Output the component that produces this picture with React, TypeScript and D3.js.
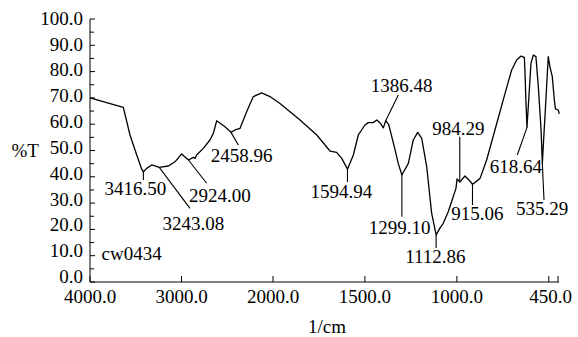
import React from "react";
import * as d3 from "d3";

// IR spectrum, sample cw0434: wavenumber (1/cm) and transmittance (%T)
const wavenumbers = [
  4000, 3636, 3563, 3508, 3435, 3416.5, 3380, 3326, 3243.08, 3144, 3071, 2998,
  2924.0, 2871, 2852, 2834, 2762, 2689, 2652, 2615, 2525, 2458.96, 2415, 2361,
  2287, 2215, 2123, 2033, 1962, 1853, 1762, 1690, 1654, 1626, 1594.94, 1563,
  1536, 1518, 1500, 1482, 1455, 1435, 1415, 1400, 1386.48, 1370, 1340, 1319,
  1299.1, 1264, 1237, 1213, 1191, 1164, 1137, 1112.86, 1093, 1074, 1047, 1020,
  1005, 999, 984.29, 956, 929, 915.06, 874, 838, 793, 738, 702, 675, 651, 633,
  630, 624, 618.64, 597, 584, 570, 557, 542, 535.29, 517, 503, 494, 481, 470,
  464, 449, 443,
];
const transmittance = [
  70.0, 66.4, 55.9, 50.2, 42.9, 41.9, 43.2, 44.5, 43.6, 44.1, 45.7, 48.7,
  46.4, 47.4, 47.0, 48.3, 50.8, 54.0, 56.5, 61.3, 59.0, 56.9, 57.8, 58.4,
  64.8, 70.5, 71.9, 70.5, 67.9, 61.6, 55.9, 49.8, 49.3, 47.0, 42.9, 48.3,
  55.9, 57.8, 59.7, 60.6, 60.6, 61.6, 60.3, 58.6, 61.4, 59.7, 51.4, 45.1,
  40.7, 45.1, 54.0, 56.9, 54.6, 43.8, 26.1, 17.9, 20.4, 22.3, 26.7, 32.4,
  35.6, 39.2, 38.0, 40.3, 38.4, 37.1, 39.4, 46.4, 57.8, 71.7, 80.6, 84.4, 85.9, 85.4,
  80.6, 67.9, 58.8, 83.2, 86.3, 85.7, 74.3, 57.8, 45.1, 67.9, 85.7, 81.9, 78.1, 69.2,
  65.8, 65.4, 63.9,
];

// Labelled peaks
const peakWavenumbers = [
  3416.5, 3243.08, 2924.0, 2458.96, 1594.94, 1386.48, 1299.1, 1112.86, 984.29,
  915.06, 618.64, 535.29,
];
const peakLabels = [
  "3416.50", "3243.08", "2924.00", "2458.96", "1594.94", "1386.48", "1299.10",
  "1112.86", "984.29", "915.06", "618.64", "535.29",
];

const yMajorTicks = [0, 10, 20, 30, 40, 50, 60, 70, 80, 90, 100];
const yMinorTicks = [5, 15, 25, 35, 45, 55, 65, 75, 85, 95];
const xTickValues = [4000, 3000, 2000, 1500, 1000, 500, 450];
const xTickLabels = [4000, 3000, 2000, 1500, 1000, 450];
const sampleName = "cw0434";

// Leader end (lx, ly) and label anchor (tx, ty) relative to each peak
const leaderLayout = [
  { lx: 0, ly: 8.3, tx: -7.9, ty: 23.3 },
  { lx: 30.7, ly: 41, tx: 34, ty: 62.7 },
  { lx: 18.2, ly: 23.3, tx: 31.5, ty: 41.7 },
  { lx: 7.3, ly: 12.6, tx: 10.7, ty: 29.3 },
  { lx: 0, ly: 12.8, tx: -6.2, ty: 29.1 },
  { lx: 12.5, ly: -25.5, tx: 15.9, ty: -28.8 },
  { lx: 0, ly: 41.7, tx: -2.2, ty: 59 },
  { lx: 0, ly: 13, tx: -0.8, ty: 28.4 },
  { lx: 0, ly: -45.3, tx: -1.3, ty: -47 },
  { lx: 0, ly: 20.6, tx: 5, ty: 35.6 },
  { lx: -9.7, ly: 27.6, tx: -11, ty: 45.6 },
  { lx: 1.7, ly: 36.6, tx: -0.3, ty: 51.6 },
];

const W = 578;
const H = 337;
const FONT = "'Liberation Serif', 'Times New Roman', serif";
const FS = 19;

export default function App() {
  const x = d3.scaleLinear().domain([4000, 2000, 450]).range([90, 273, 558]);
  const y = d3.scaleLinear().domain([0, 100]).range([282, 19]);
  // tick labels sit on a slightly tighter column so "0.0" clears the x labels
  const yLabel = d3.scaleLinear().domain([0, 100]).range([277, 18.8]);

  const data = wavenumbers.map((w, i) => [w, transmittance[i]] as [number, number]);
  const line = d3
    .line<[number, number]>()
    .x((d) => x(d[0]))
    .y((d) => y(d[1]));

  const tAt = (w: number) => transmittance[wavenumbers.indexOf(w)];

  const x0 = x(4000);
  const x1 = x(450);
  const y0 = y(0);

  return (
    <svg
      width={W}
      height={H}
      style={{ position: "absolute", left: 0, top: 0, background: "#fff" }}
      fontFamily={FONT}
      fontSize={FS}
    >
      {/* axes */}
      <line x1={x0} y1={y(100)} x2={x0} y2={y0} stroke="#000" strokeWidth={1} />
      <line x1={x0} y1={y0} x2={x1 + 1} y2={y0} stroke="#000" strokeWidth={1} />
      {yMajorTicks.map((t) => (
        <g key={"ym" + t}>
          <line x1={x0} x2={x0 + 5} y1={y(t)} y2={y(t)} stroke="#000" />
          <text x={83} y={yLabel(t) + 6} textAnchor="end">
            {t.toFixed(1)}
          </text>
        </g>
      ))}
      {yMinorTicks.map((t) => (
        <line key={"yn" + t} x1={x0} x2={x0 + 4} y1={y(t)} y2={y(t)} stroke="#000" />
      ))}
      {xTickValues.map((t) => (
        <line key={"xt" + t} x1={x(t)} x2={x(t)} y1={y0} y2={y0 - 6} stroke="#000" />
      ))}
      {xTickLabels.map((t) => {
        const last = t === 450;
        return (
          <text
            key={"xl" + t}
            x={last ? 572 : x(t)}
            y={303}
            textAnchor={last ? "end" : "middle"}
          >
            {t.toFixed(1)}
          </text>
        );
      })}
      <text x={11.5} y={157}>%T</text>
      <text x={(x0 + x1) / 2 + 3} y={333} textAnchor="middle">1/cm</text>
      <text x={101.5} y={260}>{sampleName}</text>

      {/* spectrum */}
      <path d={line(data) || ""} fill="none" stroke="#000" strokeWidth={1.3} strokeLinejoin="round" />

      {/* peak annotations */}
      {peakWavenumbers.map((w, i) => {
        const px = x(w);
        const py = y(tAt(w));
        const L = leaderLayout[i];
        return (
          <g key={"pk" + w}>
            <line x1={px} y1={py} x2={px + L.lx} y2={py + L.ly} stroke="#000" strokeWidth={1.1} />
            <text x={px + L.tx} y={py + L.ty} textAnchor="middle">
              {peakLabels[i]}
            </text>
          </g>
        );
      })}
    </svg>
  );
}
